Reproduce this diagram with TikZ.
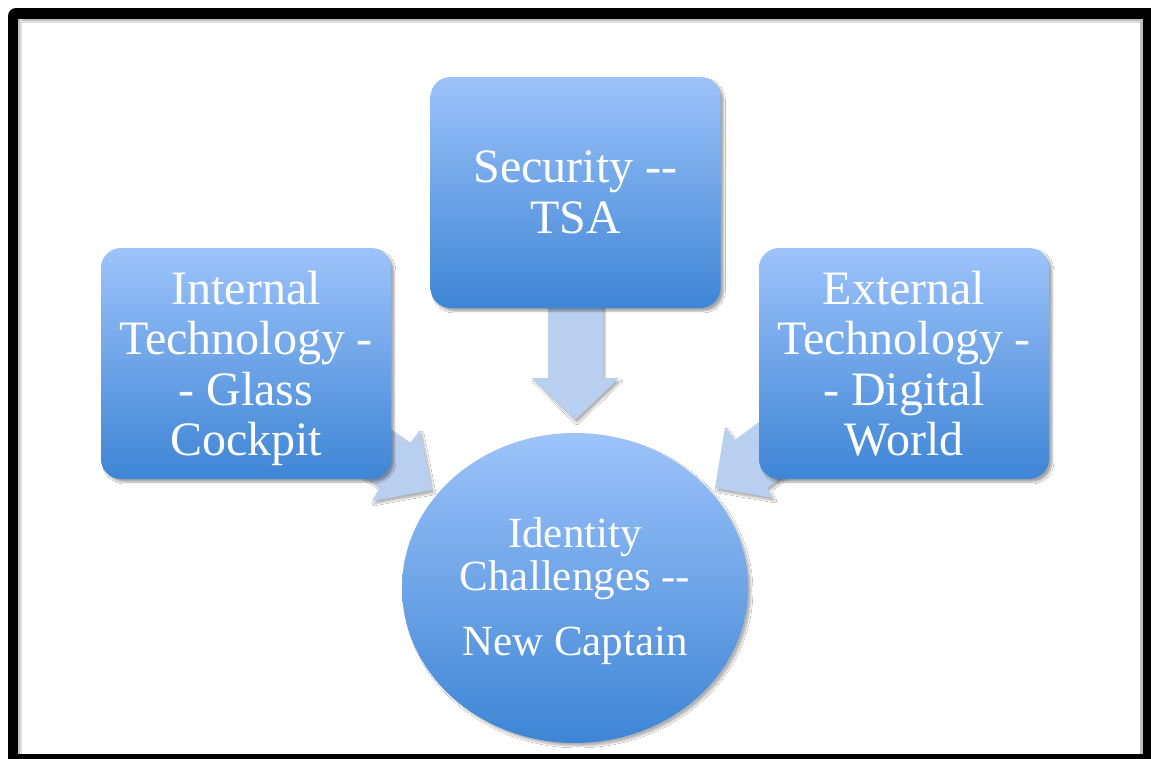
\documentclass[tikz,border=0pt]{standalone}
\usepackage{fontspec}
\setmainfont{Liberation Serif}
\usetikzlibrary{shapes.geometric,shadows.blur}
\definecolor{boxtop}{RGB}{157,195,250}
\definecolor{boxbot}{RGB}{62,133,213}
\definecolor{arrowfill}{RGB}{185,207,240}
\tikzset{
  topicbox/.style={rounded corners=20pt, top color=boxtop, bottom color=boxbot,
    draw=none, minimum width=290pt, minimum height=231pt, inner sep=0pt,
    blur shadow={shadow xshift=3pt, shadow yshift=-3pt, shadow blur steps=6, shadow opacity=35}},
  boxtext/.style={text=white, align=center, inner sep=0pt, font=\fontsize{48}{50.5}\selectfont},
  centerell/.style={ellipse, top color=boxtop, bottom color=boxbot, draw=none,
    minimum width=346pt, minimum height=310pt, inner sep=0pt,
    blur shadow={shadow xshift=3pt, shadow yshift=-3pt, shadow blur steps=6, shadow opacity=30}},
  elltext/.style={text=white, align=center, inner sep=0pt, font=\fontsize{43}{43}\selectfont},
  blockarrow/.style={fill=arrowfill, draw=none,
    blur shadow={shadow xshift=2pt, shadow yshift=-3pt, shadow blur steps=5, shadow opacity=30}}
}
\begin{document}
\begin{tikzpicture}[x=1pt,y=-1pt]
\useasboundingbox (0,0) rectangle (1151,758);
% frame
\fill[white] (0,0) rectangle (1151,758);
\fill[black, rounded corners=8pt] (8,8) rectangle (1175,780);
\fill[white] (18,19) rectangle (1143,754);
\fill[black!25] (18,19) rectangle (1143,21);
\fill[black!12] (18,21) rectangle (1143,23);
\fill[black!25] (18,19) rectangle (20,754);
\fill[black!12] (20,19) rectangle (22,754);
\fill[black!25] (1140,19) rectangle (1143,754);
% arrow coordinates
\coordinate (dA1) at (548,290);
\coordinate (dA2) at (548,378);
\coordinate (dA3) at (532,378);
\coordinate (dTip) at (575,420);
\coordinate (dA4) at (619,378);
\coordinate (dA5) at (603,378);
\coordinate (dA6) at (603,290);
\coordinate (lA1) at (345,399);
\coordinate (lA2) at (410,443);
\coordinate (lA3) at (420,430);
\coordinate (lTip) at (432,490);
\coordinate (lA4) at (372,501);
\coordinate (lA5) at (380,487);
\coordinate (lA6) at (315,443);
\coordinate (rA1) at (795,395);
\coordinate (rA2) at (735,440);
\coordinate (rA3) at (725,427);
\coordinate (rTip) at (715,488);
\coordinate (rA4) at (773,498);
\coordinate (rA5) at (767,488);
\coordinate (rA6) at (827,443);
\path[blockarrow] (dA1) -- (dA2) -- (dA3) -- (dTip) -- (dA4) -- (dA5) -- (dA6) -- cycle;
\path[blockarrow] (lA1) -- (lA2) -- (lA3) -- (lTip) -- (lA4) -- (lA5) -- (lA6) -- cycle;
\path[blockarrow] (rA1) -- (rA2) -- (rA3) -- (rTip) -- (rA4) -- (rA5) -- (rA6) -- cycle;
% nodes
\node[topicbox] (sec) at (575.5,192.5) {};
\node[topicbox] (int) at (246,363.5) {};
\node[topicbox] (ext) at (904,363.5) {};
\node[centerell] (id) at (575,588) {};
\node[boxtext] (secT) at ([yshift=-5.5pt]sec.center) {\strut Security -{}-\\TSA\strut};
\node[boxtext] (intT) at ([yshift=-6.5pt]int.center) {\strut Internal\\Technology -\\- Glass\\Cockpit\strut};
\node[boxtext] (extT) at ([yshift=-6.5pt]ext.center) {\strut External\\Technology -\\- Digital\\World\strut};
\node[elltext] (idT) at ([yshift=-5pt]id.center) {\strut Identity\\Challenges -{}-\\[22pt]New Captain\strut};
\end{tikzpicture}
\end{document}
